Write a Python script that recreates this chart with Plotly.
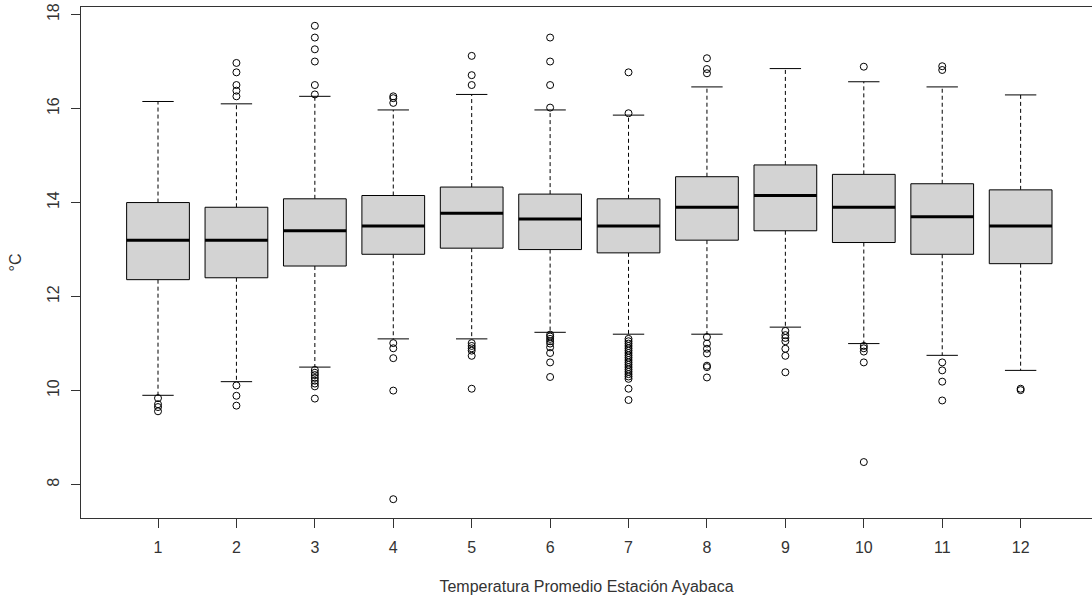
import plotly.graph_objects as go

months = list(range(1, 13))
q1 = [12.36, 12.40, 12.65, 12.90, 13.03, 13.00, 12.93, 13.20, 13.40, 13.15, 12.90, 12.70]
med = [13.20, 13.20, 13.40, 13.50, 13.77, 13.65, 13.50, 13.90, 14.15, 13.90, 13.70, 13.50]
q3 = [14.00, 13.90, 14.08, 14.15, 14.33, 14.18, 14.08, 14.55, 14.80, 14.60, 14.40, 14.27]
lower_whisker = [9.90, 10.19, 10.50, 11.10, 11.10, 11.24, 11.20, 11.20, 11.35, 11.00, 10.75, 10.43]
upper_whisker = [16.15, 16.10, 16.26, 15.97, 16.30, 15.97, 15.86, 16.46, 16.85, 16.57, 16.46, 16.29]
outliers = [
    [9.84, 9.71, 9.65, 9.56],
    [16.97, 16.77, 16.50, 16.38, 16.26, 10.11, 9.89, 9.68],
    [17.76, 17.51, 17.26, 17.00, 16.50, 16.30, 10.44, 10.38, 10.33, 10.27, 10.21, 10.15, 10.09, 9.83],
    [16.26, 16.22, 16.12, 11.01, 10.90, 10.69, 10.00, 7.69],
    [17.12, 16.71, 16.50, 11.01, 10.95, 10.90, 10.85, 10.74, 10.04],
    [17.51, 17.00, 16.50, 16.02, 11.19, 11.15, 11.10, 11.05, 11.00, 10.92, 10.80, 10.60, 10.29],
    [16.77, 15.90, 11.10, 11.05, 11.00, 10.95, 10.90, 10.85, 10.80, 10.75, 10.70, 10.65, 10.60,
     10.55, 10.50, 10.45, 10.40, 10.35, 10.30, 10.25, 10.04, 9.80],
    [17.07, 16.84, 16.75, 11.14, 11.00, 10.89, 10.79, 10.53, 10.50, 10.28],
    [11.27, 11.18, 11.12, 11.05, 10.89, 10.74, 10.39],
    [16.89, 10.95, 10.90, 10.83, 10.60, 8.48],
    [16.90, 16.82, 10.60, 10.43, 10.19, 9.79],
    [10.04, 10.01],
]
x_ticks = [str(m) for m in months]
y_ticks = [8, 10, 12, 14, 16, 18]

BOX_HALF = 0.4
CAP_HALF = 0.2

fig = go.Figure()

# Whiskers (dashed)
wx, wy = [], []
for m, a, b, l, h in zip(months, q1, q3, lower_whisker, upper_whisker):
    wx += [m, m, None, m, m, None]
    wy += [b, h, None, a, l, None]
fig.add_trace(go.Scatter(x=wx, y=wy, mode="lines",
                         line=dict(color="black", width=1, dash="4px,3px"),
                         hoverinfo="skip", showlegend=False))

# Caps
cx, cy = [], []
for m, l, h in zip(months, lower_whisker, upper_whisker):
    cx += [m - CAP_HALF, m + CAP_HALF, None, m - CAP_HALF, m + CAP_HALF, None]
    cy += [h, h, None, l, l, None]
fig.add_trace(go.Scatter(x=cx, y=cy, mode="lines",
                         line=dict(color="black", width=1),
                         hoverinfo="skip", showlegend=False))

# Boxes
for m, a, b in zip(months, q1, q3):
    fig.add_trace(go.Scatter(
        x=[m - BOX_HALF, m + BOX_HALF, m + BOX_HALF, m - BOX_HALF, m - BOX_HALF],
        y=[a, a, b, b, a], mode="lines", fill="toself", fillcolor="#D3D3D3",
        line=dict(color="black", width=1), hoverinfo="skip", showlegend=False))

# Medians
mx, my = [], []
for m, v in zip(months, med):
    mx += [m - BOX_HALF, m + BOX_HALF, None]
    my += [v, v, None]
fig.add_trace(go.Scatter(x=mx, y=my, mode="lines",
                         line=dict(color="black", width=3),
                         hoverinfo="skip", showlegend=False))

# Outliers
ox, oy = [], []
for m, vals in zip(months, outliers):
    for v in vals:
        ox.append(m)
        oy.append(v)
fig.add_trace(go.Scatter(x=ox, y=oy, mode="markers",
                         marker=dict(symbol="circle-open", size=7, color="black",
                                     line=dict(width=1, color="black")),
                         hoverinfo="skip", showlegend=False))

font = dict(family="Liberation Sans, Arial, sans-serif", size=16, color="#333333")

fig.update_layout(
    width=1092, height=598,
    margin=dict(l=81, r=0, t=7, b=80),
    plot_bgcolor="white", paper_bgcolor="white",
    font=font,
    xaxis=dict(range=[0.018, 12.91], tickvals=months, ticktext=x_ticks,
               showgrid=False, zeroline=False, showline=True, mirror=True,
               linecolor="#333333", linewidth=1, ticks="outside", ticklen=9,
               tickcolor="#333333", ticklabelstandoff=6,
               title=dict(text="Temperatura Promedio Estación Ayabaca", standoff=25,
                          font=dict(size=16, color="#333333"))),
    yaxis=dict(range=[7.29, 18.16], tickvals=y_ticks, ticktext=[str(t) for t in y_ticks],
               showgrid=False, zeroline=False, showline=True, mirror=False,
               linecolor="#333333", linewidth=1, ticks="outside", ticklen=9,
               tickcolor="#333333", tickangle=-90, ticklabelstandoff=6,
               title=dict(text="°C", standoff=18, font=dict(size=16, color="#333333"))),
)

fig.write_html("out.html")
